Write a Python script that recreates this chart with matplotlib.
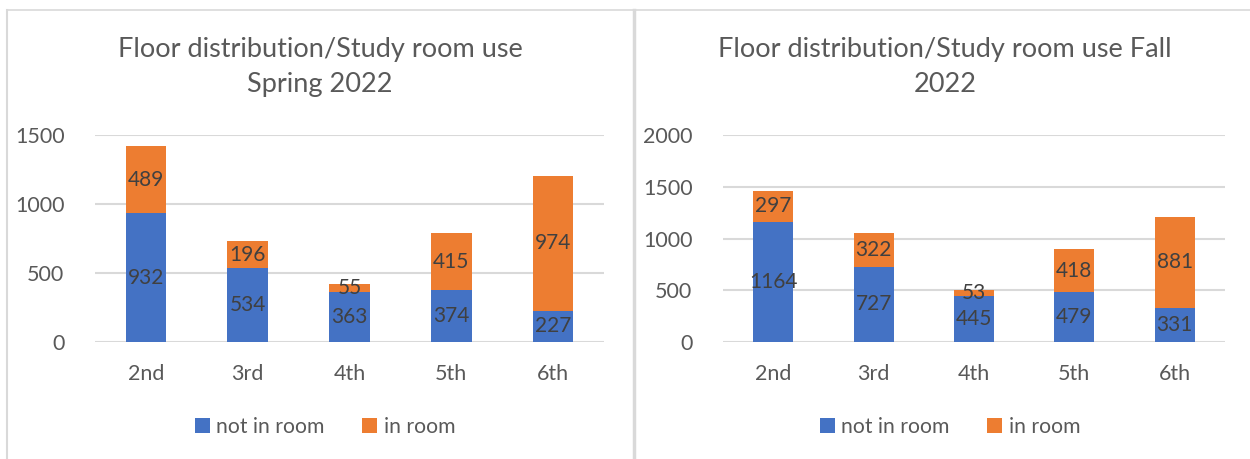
import matplotlib.pyplot as plt
from matplotlib.lines import Line2D
import numpy as np

plt.rcParams['font.family'] = ['Lato', 'DejaVu Sans']

floors = ['2nd', '3rd', '4th', '5th', '6th']
spring_not_in = [932, 534, 363, 374, 227]
spring_in = [489, 196, 55, 415, 974]
fall_not_in = [1164, 727, 445, 479, 331]
fall_in = [297, 322, 53, 418, 881]

blue = '#4472C4'
orange = '#ED7D31'
grey_txt = '#595959'
label_txt = '#404040'
grid_col = '#D9D9D9'

W, H = 1250, 459
fig = plt.figure(figsize=(W / 100, H / 100), dpi=100)


def px_axes(x0, x1, ytop, ybot):
    return fig.add_axes([x0 / W, 1 - ybot / H, (x1 - x0) / W, (ybot - ytop) / H])


def draw(ax, not_in, in_room, ymax, title, cx):
    x = np.arange(len(floors))
    b1 = ax.bar(x, not_in, width=0.4, color=blue, label='not in room', zorder=3)
    b2 = ax.bar(x, in_room, width=0.4, bottom=not_in, color=orange,
                label='in room', zorder=3)
    ax.bar_label(b1, label_type='center', fontsize=15, color=label_txt)
    ax.bar_label(b2, label_type='center', fontsize=15, color=label_txt)
    ax.set_xlim(-0.5, len(floors) - 0.5)
    ax.set_ylim(0, ymax)
    ax.set_yticks(np.arange(0, ymax + 1, 500))
    ax.set_xticks(x, floors)
    ax.yaxis.grid(True, color=grid_col, linewidth=1.5, zorder=0)
    for s in ax.spines.values():
        s.set_visible(False)
    ax.tick_params(length=0, labelsize=15.5, labelcolor=grey_txt)
    ax.tick_params(axis='x', pad=16)
    ax.tick_params(axis='y', pad=22)
    fig.text(cx / W, 1 - 67 / H, title, ha='center', va='center',
             fontsize=19.5, color=grey_txt, linespacing=1.5)
    fig.legend(handles=[b1, b2], loc='center', bbox_to_anchor=(cx / W + 0.004, 1 - 427 / H),
               ncol=2, frameon=False, fontsize=15.2, labelcolor=grey_txt,
               handlelength=0.7, handleheight=0.7, handletextpad=0.3,
               columnspacing=1.8)


ax1 = px_axes(95, 604, 135, 342)
draw(ax1, spring_not_in, spring_in, 1500,
     'Floor distribution/Study room use\nSpring 2022', 320)

ax2 = px_axes(723, 1225, 135, 342)
draw(ax2, fall_not_in, fall_in, 2000,
     'Floor distribution/Study room use Fall\n2022', 945)

# chart frames
border = '#D9D9D9'
fig.add_artist(Line2D([7 / W, 1], [1 - 10 / H, 1 - 10 / H], color=border, lw=1.2))
fig.add_artist(Line2D([7 / W, 7 / W], [0, 1 - 10 / H], color=border, lw=1.5))
fig.add_artist(Line2D([634 / W, 634 / W], [0, 1 - 10 / H], color=border, lw=2.5))

fig.savefig('out.png', dpi=100)
